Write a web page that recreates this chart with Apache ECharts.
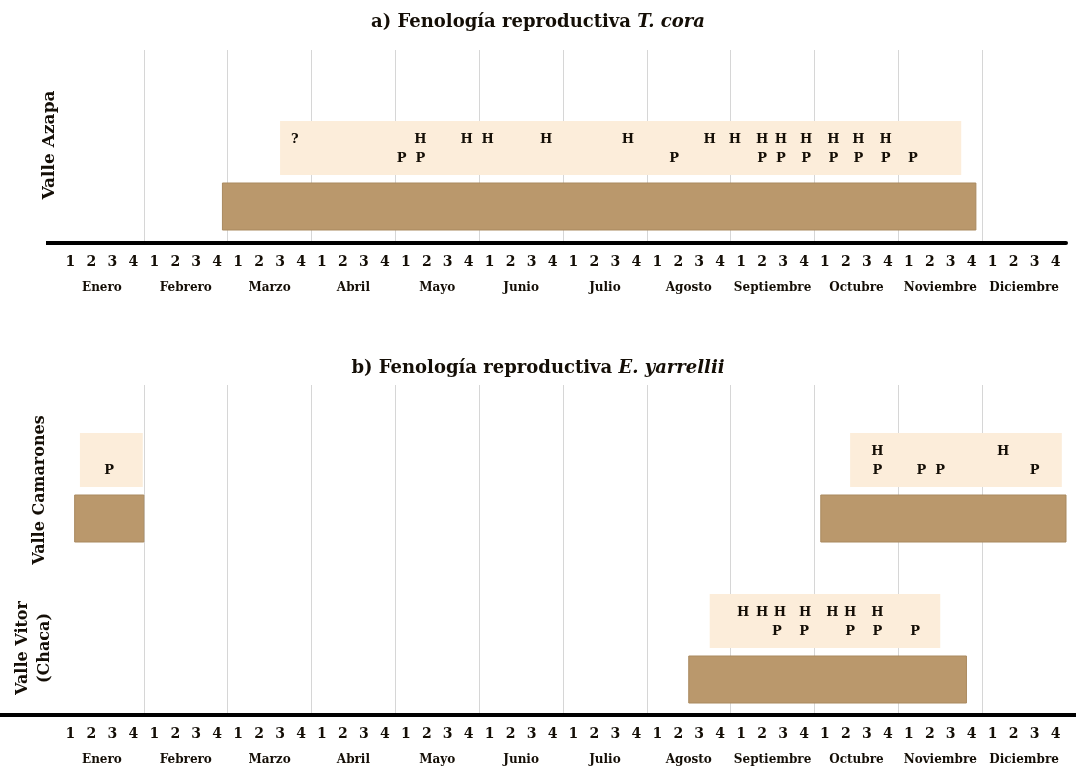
<!DOCTYPE html>
<html>
<head>
<meta charset="utf-8">
<title>Fenología reproductiva</title>
<script src="https://cdn.jsdelivr.net/npm/echarts@6/dist/echarts.min.js"></script>
<style>
  html, body { margin: 0; padding: 0; background: #ffffff; }
  #chart { width: 1076px; height: 773px; }
</style>
</head>
<body>
<div id="chart"></div>
<script>
// ---- Data (x values in weeks from 1 January; 4 weeks per month) ----
const months = ['Enero', 'Febrero', 'Marzo', 'Abril', 'Mayo', 'Junio', 'Julio',
  'Agosto', 'Septiembre', 'Octubre', 'Noviembre', 'Diciembre'];
const weekNames = ['1', '2', '3', '4'];

// a) T. cora — Valle Azapa
const azapaActive = [[7.75, 43.7]];
const azapaRepro = [[10.5, 43.0]];
const azapaH = [17.2, 19.4, 20.4, 23.2, 27.1, 31.0, 32.2, 33.5, 34.4, 35.6, 36.9, 38.1, 39.4];
const azapaP = [16.3, 17.2, 29.3, 33.5, 34.4, 35.6, 36.9, 38.1, 39.4, 40.7];
const azapaUnknown = [11.2];

// b) E. yarrellii — Valle Camarones
const camaronesActive = [[0.7, 4.0], [36.3, 48.0]];
const camaronesRepro = [[0.95, 3.95], [37.7, 47.8]];
const camaronesH = [39.0, 45.0];
const camaronesP = [2.35, 39.0, 41.1, 42.0, 46.5];

// b) E. yarrellii — Valle Vitor (Chaca)
const vitorActive = [[30.0, 43.25]];
const vitorRepro = [[31.0, 42.0]];
const vitorH = [32.6, 33.5, 34.35, 35.55, 36.85, 37.7, 39.0];
const vitorP = [34.2, 35.5, 37.7, 39.0, 40.8];

// ---- Layout ----
const weekLabels = [];
months.forEach(() => weekNames.forEach(w => weekLabels.push(w)));

const SERIF = '"DejaVu Serif", "Liberation Serif", serif';
const INK = '#140e06';
const DARK_BAR = '#ba986c';
const LIGHT_BAR = '#fcedda';

// vertical lane offsets (pixels above the baseline, in the hidden y scale)
const LANE = { active: [0, 47], repro: [55, 109], H: 90, P: 71 };
const laneBase = { azapa: 13, camarones: 173, vitor: 12 };

const plotLeft = 60, plotRight = 10;
const gridA = { top: 50, baseline: 243 };
const gridB = { top: 385, baseline: 715 };
const H_TOTAL = 773;

function rectSeries(gridIdx, rows, base, span, color, border) {
  return {
    type: 'custom',
    xAxisIndex: gridIdx * 3,
    yAxisIndex: gridIdx,
    data: rows,
    z: color === DARK_BAR ? 3 : 2,
    renderItem: function (params, api) {
      const p0 = api.coord([api.value(0), base + span[0]]);
      const p1 = api.coord([api.value(1), base + span[1]]);
      return {
        type: 'rect',
        shape: { x: p0[0], y: p1[1], width: p1[0] - p0[0], height: p0[1] - p1[1] },
        style: { fill: color, stroke: border, lineWidth: border ? 1 : 0 }
      };
    }
  };
}

function letterSeries(gridIdx, xs, base, level, letter) {
  return {
    type: 'custom',
    xAxisIndex: gridIdx * 3,
    yAxisIndex: gridIdx,
    data: xs.map(x => [x]),
    z: 5,
    renderItem: function (params, api) {
      const p = api.coord([api.value(0), base + level]);
      return {
        type: 'text',
        x: p[0], y: p[1],
        style: {
          text: letter,
          font: 'bold 13px ' + SERIF,
          fill: INK,
          align: 'center',
          verticalAlign: 'middle'
        }
      };
    }
  };
}

function gridAxes(gridIdx) {
  return [
    { // data scale, month grid lines
      type: 'value', gridIndex: gridIdx, min: 0, max: 48, interval: 4,
      axisLine: { show: false }, axisTick: { show: false }, axisLabel: { show: false },
      splitLine: { show: true, showMinLine: false, showMaxLine: false,
        lineStyle: { color: '#d6d6d6', width: 1 } }
    },
    { // week numbers + baseline
      type: 'category', gridIndex: gridIdx, position: 'bottom', data: weekLabels,
      boundaryGap: true,
      axisLine: { show: true, lineStyle: { color: '#000', width: 4 } },
      axisTick: { show: false },
      axisLabel: { interval: 0, margin: 12, color: INK,
        fontFamily: SERIF, fontWeight: 'bold', fontSize: 14 },
      splitLine: { show: false }
    },
    { // month names
      type: 'category', gridIndex: gridIdx, position: 'bottom', data: months,
      boundaryGap: true, offset: 28,
      axisLine: { show: false }, axisTick: { show: false },
      axisLabel: { interval: 0, margin: 11, color: INK,
        fontFamily: SERIF, fontWeight: 'bold', fontSize: 12 },
      splitLine: { show: false }
    }
  ];
}

function yAxis(gridIdx, g) {
  return {
    type: 'value', gridIndex: gridIdx, min: 0, max: g.baseline - g.top,
    show: false, splitLine: { show: false }
  };
}

function titleRich(letter, species, top) {
  return {
    text: '{n|' + letter + ') Fenología reproductiva }{i|' + species + '}',
    left: 'center', top: top,
    textStyle: {
      rich: {
        n: { fontFamily: SERIF, fontWeight: 'bold', fontSize: 18, color: INK },
        i: { fontFamily: SERIF, fontWeight: 'bold', fontStyle: 'italic', fontSize: 18, color: INK }
      }
    }
  };
}

function rowLabel(text, x, y, size) {
  return {
    type: 'text', x: x, y: y, rotation: Math.PI / 2,
    style: {
      text: text, font: 'bold ' + size + 'px ' + SERIF, fill: INK,
      align: 'center', verticalAlign: 'middle', lineHeight: 22
    }
  };
}

const chart = echarts.init(document.getElementById('chart'), null, { renderer: 'canvas' });

const series = [
  rectSeries(0, azapaRepro, laneBase.azapa, LANE.repro, LIGHT_BAR),
  rectSeries(0, azapaActive, laneBase.azapa, LANE.active, DARK_BAR, '#a9895f'),
  letterSeries(0, azapaH, laneBase.azapa, LANE.H, 'H'),
  letterSeries(0, azapaP, laneBase.azapa, LANE.P, 'P'),
  letterSeries(0, azapaUnknown, laneBase.azapa, LANE.H, '?'),

  rectSeries(1, camaronesRepro, laneBase.camarones, LANE.repro, LIGHT_BAR),
  rectSeries(1, camaronesActive, laneBase.camarones, LANE.active, DARK_BAR, '#a9895f'),
  letterSeries(1, camaronesH, laneBase.camarones, LANE.H, 'H'),
  letterSeries(1, camaronesP, laneBase.camarones, LANE.P, 'P'),

  rectSeries(1, vitorRepro, laneBase.vitor, LANE.repro, LIGHT_BAR),
  rectSeries(1, vitorActive, laneBase.vitor, LANE.active, DARK_BAR, '#a9895f'),
  letterSeries(1, vitorH, laneBase.vitor, LANE.H, 'H'),
  letterSeries(1, vitorP, laneBase.vitor, LANE.P, 'P')
];

chart.setOption({
  backgroundColor: '#ffffff',
  animation: false,
  title: [titleRich('a', 'T. cora', 8), titleRich('b', 'E. yarrellii', 354)],
  grid: [
    { left: plotLeft, right: plotRight, top: gridA.top, bottom: H_TOTAL - gridA.baseline },
    { left: plotLeft, right: plotRight, top: gridB.top, bottom: H_TOTAL - gridB.baseline }
  ],
  xAxis: gridAxes(0).concat(gridAxes(1)),
  yAxis: [yAxis(0, gridA), yAxis(1, gridB)],
  series: series,
  graphic: [
    // baseline extends past the plot area
    { type: 'line', shape: { x1: 46, y1: gridA.baseline, x2: plotLeft, y2: gridA.baseline },
      style: { stroke: '#000', lineWidth: 4 } },
    { type: 'line', shape: { x1: 0, y1: gridB.baseline, x2: plotLeft, y2: gridB.baseline },
      style: { stroke: '#000', lineWidth: 4 } },
    { type: 'line', shape: { x1: 1076 - plotRight, y1: gridB.baseline, x2: 1076, y2: gridB.baseline },
      style: { stroke: '#000', lineWidth: 4 } },
    rowLabel('Valle Azapa', 50, 145, 17),
    rowLabel('Valle Camarones', 40, 490, 16),
    rowLabel('Valle Vitor\n(Chaca)', 34, 648, 16)
  ]
});
</script>
</body>
</html>
